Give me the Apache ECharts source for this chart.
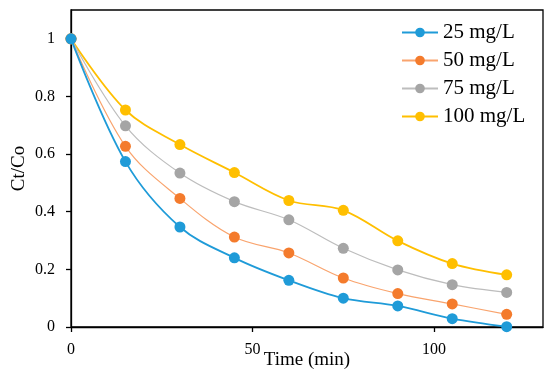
<!DOCTYPE html>
<html><head><meta charset="utf-8">
<script src="https://cdn.jsdelivr.net/npm/echarts@6/dist/echarts.min.js"></script>
<style>html,body{margin:0;padding:0;background:#fff}#c{width:550px;height:382px}</style>
</head><body><div id="c"></div>
<script>
var times = [0, 15, 30, 45, 60, 75, 90, 105, 120];
var seriesNames = ['25 mg/L', '50 mg/L', '75 mg/L', '100 mg/L'];
var s25 = [1, 0.574, 0.347, 0.240, 0.162, 0.100, 0.073, 0.029, 0.001];
var s50 = [1, 0.627, 0.446, 0.312, 0.257, 0.170, 0.116, 0.080, 0.044];
var s75 = [1, 0.698, 0.534, 0.435, 0.372, 0.273, 0.198, 0.147, 0.120];
var s100 = [1, 0.753, 0.633, 0.536, 0.439, 0.405, 0.299, 0.220, 0.181];
var xTicks = [0, 50, 100];
var yTicks = [0, 0.2, 0.4, 0.6, 0.8, 1];

var colors = ['#1f9bd8', '#f47b2c', '#a5a5a5', '#ffbf00'];
var widths = [1.8, 1.2, 1.2, 1.8];
var lineColors = ['#1f9bd8', '#f9a46e', '#bdbdbd', '#ffbf00'];
var allData = [s25, s50, s75, s100];
var font = 'Liberation Serif';

var series = allData.map(function (arr, i) {
  return {
    name: seriesNames[i], type: 'line', smooth: 0.35,
    data: times.map(function (t, j) { return [t, arr[j]]; }),
    symbol: 'circle', symbolSize: 11,
    itemStyle: { color: colors[i] },
    lineStyle: { color: lineColors[i], width: widths[i] },
    z: 2 + (3 - i)
  };
});

var chart = echarts.init(document.getElementById('c'), null, { renderer: 'canvas' });
chart.setOption({
  animation: false,
  textStyle: { fontFamily: font },
  grid: { left: 71, top: 10, right: 7, bottom: 55, outerBoundsMode: 'none', containLabel: false,
    show: true, borderColor: '#000', borderWidth: 1.3, backgroundColor: 'transparent' },
  legend: {
    orient: 'vertical', left: 396, top: 17, itemWidth: 36, itemHeight: 12, itemGap: 7,
    textStyle: { fontFamily: font, fontSize: 21, color: '#000' },
    data: seriesNames
  },
  xAxis: {
    type: 'value', min: 0, max: 130, interval: 50,
    name: 'Time (min)', nameLocation: 'middle', nameGap: 24, nameMoveOverlap: false,
    nameTextStyle: { fontFamily: font, fontSize: 19, color: '#000' },
    axisLine: { lineStyle: { color: '#000', width: 1.3 } },
    axisTick: { show: true, length: 5, customValues: xTicks, lineStyle: { color: '#000', width: 1.3 } },
    axisLabel: { customValues: xTicks, fontFamily: font, fontSize: 16, color: '#000', margin: 15 },
    splitLine: { show: false }
  },
  yAxis: {
    type: 'value', min: 0, max: 1.1, interval: 0.2,
    name: 'Ct/Co', nameLocation: 'middle', nameGap: 42, nameRotate: 90, nameMoveOverlap: false,
    nameTextStyle: { fontFamily: font, fontSize: 19, color: '#000', padding: [0, 0, 0, 0] },
    axisLine: { show: true, lineStyle: { color: '#000', width: 1.3 } },
    axisTick: { show: true, length: 5, customValues: yTicks, lineStyle: { color: '#000', width: 1.3 } },
    axisLabel: { customValues: yTicks, fontFamily: font, fontSize: 16, color: '#000', margin: 16,
      formatter: function (v) { return String(+v.toFixed(1)); } },
    splitLine: { show: false }
  },
  series: series
});
</script></body></html>
